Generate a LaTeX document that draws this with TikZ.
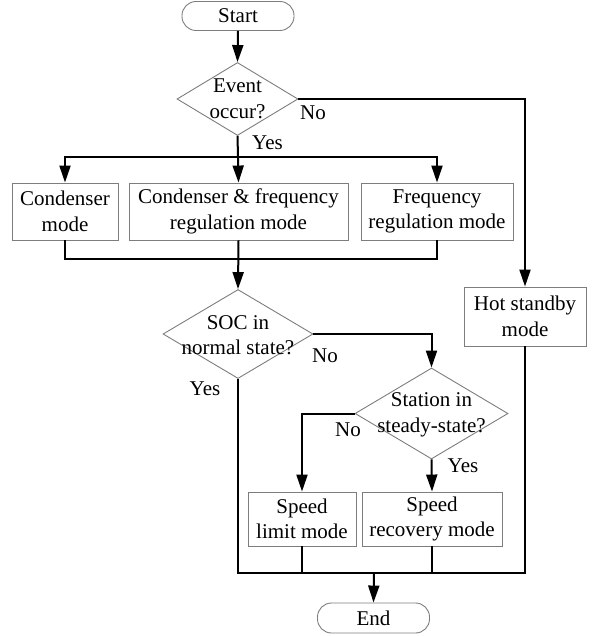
\documentclass[tikz,border=0pt]{standalone}
\usepackage{fontspec}
\setmainfont{Liberation Serif}
\usetikzlibrary{arrows.meta,shapes.geometric}
\definecolor{boxgray}{RGB}{125,125,125}
\begin{document}
\begin{tikzpicture}[x=1pt,y=-1pt,
  every node/.style={font=\fontsize{21}{25.5}\selectfont, text=black},
  procbox/.style={draw=boxgray, line width=0.9pt, rectangle, align=center, inner sep=1pt},
  termbox/.style={draw=boxgray, line width=0.9pt, rectangle, rounded corners=14pt, align=center, inner sep=1pt, minimum width=112pt, minimum height=29pt},
  decbox/.style={draw=boxgray, line width=0.9pt, diamond, inner sep=0pt},
  dectext/.style={align=center, inner sep=0pt},
  conn/.style={line width=2pt, draw=black},
  arr/.style={conn, -{Triangle[length=17pt,width=11pt]}},
  lbl/.style={inner sep=0pt}
]
\useasboundingbox (0,0) rectangle (595,636);

% terminals
\node[termbox] (start) at (238,16) {Start};
\node[termbox, minimum height=30pt] (stop) at (373.5,618) {End};

% decisions
\node[decbox, minimum width=121pt, minimum height=73pt] (event) at (237.5,99) {};
\node[dectext] (eventtxt) at (event.center) {Event\\occur?};
\node[decbox, minimum width=150pt, minimum height=89pt] (soc) at (238,334) {};
\node[dectext] (soctxt) at (238,335) {SOC in\\normal state?};
\node[decbox, minimum width=153pt, minimum height=91pt] (st) at (431.5,413.5) {};
\node[dectext] (sttxt) at (431.5,415) {Station in\\steady-state?};

% process boxes
\node[procbox, minimum width=106pt, minimum height=57pt] (b1) at (65,211.5) {Condenser\\mode};
\node[procbox, minimum width=219pt, minimum height=57pt] (b2) at (238.5,211.5) {Condenser \& frequency\\regulation mode};
\node[procbox, minimum width=152pt, minimum height=57pt] (b3) at (437,211.5) {Frequency\\regulation mode};
\node[procbox, minimum width=122pt, minimum height=59pt] (hot) at (525,316.5) {Hot standby\\mode};
\node[procbox, minimum width=108pt, minimum height=54pt] (sl) at (302,519) {Speed\\limit mode};
\node[procbox, minimum width=140pt, minimum height=54pt] (sr) at (432,519) {Speed\\recovery mode};

% helper coordinates
\coordinate (split) at (238,157);
\coordinate (merge) at (238,259);
\coordinate (mbot) at (374,573);
\coordinate (mleft) at (238,573);
\coordinate (mright) at (525,573);

% connectors
\draw[arr] (start.south) -- (event.north);
\draw[arr] (event.east) -| (hot.north);
\draw[conn] (event.south) -- (split);
\draw[arr] (split) -| (b1.north);
\draw[arr] (split) -| (b3.north);
\draw[arr] (split) -- (b2.north);
\draw[conn] (b1.south) |- (merge);
\draw[conn] (b3.south) |- (merge);
\draw[arr] (b2.south) -- (soc.north);
\draw[arr] (soc.east) -| (st.north);
\draw[arr] (st.west) -| (sl.north);
\draw[arr] (st.south) -- (sr.north);
\draw[conn] (soc.south) -- (mleft) -- (mright) -- (hot.south);
\draw[conn] (sl.south) -- (sl.south |- mbot);
\draw[conn] (sr.south) -- (sr.south |- mbot);
\draw[arr] (mbot) -- (stop.north);

% labels
\node[lbl] (l1) at (313,113) {No};
\node[lbl] (l2) at (267.5,143) {Yes};
\node[lbl] (l3) at (325,356) {No};
\node[lbl] (l4) at (205,389) {Yes};
\node[lbl] (l5) at (348,430) {No};
\node[lbl] (l6) at (463,466) {Yes};
\end{tikzpicture}
\end{document}
